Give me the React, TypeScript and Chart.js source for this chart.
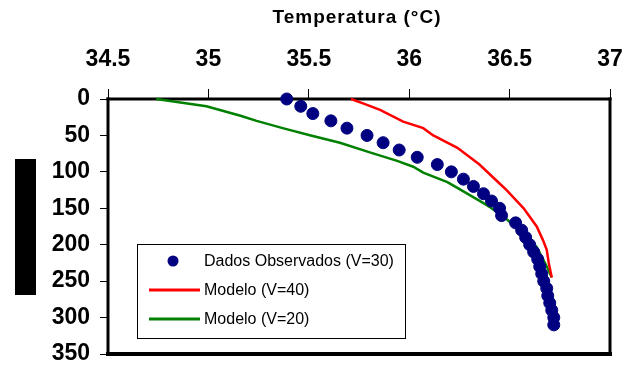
import React, { useEffect, useRef } from "react";
import { Chart, registerables } from "chart.js";

Chart.register(...registerables);

// Axis tick values
const tempTicks = [34.5, 35, 35.5, 36, 36.5, 37];
const depthTicks = [0, 50, 100, 150, 200, 250, 300, 350];
const axisTitle = "Temperatura (°C)";

// Observed profile (V=30): depth (m) and temperature (°C)
const obsDepth = [
  0, 10, 20, 30, 40, 50, 60, 70, 80, 90, 100, 110, 120, 130, 140, 150, 160,
  170, 180, 190, 200, 210, 220, 230, 240, 250, 260, 270, 280, 290, 300, 310,
];
const obsTemp = [
  35.39, 35.46, 35.52, 35.61, 35.69, 35.79, 35.87, 35.95, 36.04, 36.14, 36.21,
  36.27, 36.32, 36.37, 36.41, 36.45, 36.46, 36.53, 36.56, 36.58, 36.6, 36.62,
  36.64, 36.65, 36.66, 36.67, 36.685, 36.69, 36.7, 36.71, 36.72, 36.72,
];

// Model V=40
const v40Depth = [0, 6, 15, 31, 40, 50, 67, 90, 116, 125, 150, 175, 193, 207, 225, 245];
const v40Temp = [
  35.71, 35.77, 35.855, 35.97, 36.07, 36.12, 36.24, 36.35, 36.45, 36.485,
  36.57, 36.635, 36.665, 36.685, 36.695, 36.71,
];

// Model V=20
const v20Depth = [0, 10, 23, 30, 40, 50, 60, 73, 85, 93, 101, 114, 122, 143, 148, 166, 185, 203, 230, 245];
const v20Temp = [
  34.74, 34.99, 35.16, 35.24, 35.37, 35.51, 35.655, 35.8, 35.94, 36.02, 36.07,
  36.19, 36.24, 36.37, 36.4, 36.49, 36.57, 36.635, 36.685, 36.71,
];

const FONT = "'Liberation Sans', Arial, Helvetica, sans-serif";

const toPoints = (temps: number[], depths: number[]) =>
  temps.map((t, i) => ({ x: t, y: depths[i] }));

// Fixed axis box sizes, without label overhang padding
const fixScale = (size: number) => (scale: any) => {
  if (scale.isHorizontal()) scale.height = size;
  else scale.width = size;
  scale.paddingLeft = 0;
  scale.paddingRight = 0;
  scale.paddingTop = 0;
  scale.paddingBottom = 0;
};

// Plot frame, axis title, legend box and the block on the left
const decorPlugin = {
  id: "decor",
  beforeDatasetsDraw(chart: any) {
    const { ctx, chartArea: a } = chart;
    ctx.save();
    ctx.strokeStyle = "#000";
    ctx.lineCap = "square";
    const side = (x1: number, y1: number, x2: number, y2: number, w: number) => {
      ctx.lineWidth = w;
      ctx.beginPath();
      ctx.moveTo(x1, y1);
      ctx.lineTo(x2, y2);
      ctx.stroke();
    };
    side(a.left, a.top, a.right, a.top, 3);
    side(a.left, a.top, a.left, a.bottom, 3);
    side(a.right, a.top, a.right, a.bottom, 3);
    side(a.left, a.bottom, a.right, a.bottom, 4);
    ctx.restore();
  },
  afterDraw(chart: any) {
    const { ctx } = chart;
    ctx.save();

    // axis title, letter-spaced
    ctx.fillStyle = "#000";
    ctx.font = `bold 19px ${FONT}`;
    (ctx as any).letterSpacing = "1px";
    ctx.textAlign = "center";
    ctx.textBaseline = "middle";
    ctx.fillText(axisTitle, 357, 18);
    (ctx as any).letterSpacing = "0px";

    // block at left
    ctx.fillStyle = "#000";
    ctx.fillRect(15, 159, 21, 136);

    // legend box
    const bx = 137, by = 244, bw = 268, bh = 94;
    ctx.fillStyle = "#fff";
    ctx.fillRect(bx, by, bw, bh);
    ctx.strokeStyle = "#000";
    ctx.lineWidth = 1;
    ctx.strokeRect(bx + 0.5, by + 0.5, bw, bh);

    const rows = [261, 290, 319];
    chart.data.datasets.forEach((ds: any, i: number) => {
      const y = rows[i];
      if (ds.showLine) {
        ctx.strokeStyle = ds.borderColor;
        ctx.lineWidth = 3;
        ctx.beginPath();
        ctx.moveTo(149, y);
        ctx.lineTo(200, y);
        ctx.stroke();
      } else {
        ctx.fillStyle = ds.backgroundColor;
        ctx.beginPath();
        ctx.arc(173, y, 5.5, 0, Math.PI * 2);
        ctx.fill();
      }
      ctx.fillStyle = "#000";
      ctx.font = `16px ${FONT}`;
      ctx.textAlign = "left";
      ctx.textBaseline = "middle";
      ctx.fillText(ds.label, 204, y + 1);
    });
    ctx.restore();
  },
};

export default function App() {
  const canvasRef = useRef<HTMLCanvasElement | null>(null);

  useEffect(() => {
    const canvas = canvasRef.current;
    if (!canvas) return;
    const chart = new Chart(canvas, {
      type: "scatter",
      data: {
        datasets: [
          {
            label: "Dados Observados (V=30)",
            data: toPoints(obsTemp, obsDepth),
            showLine: false,
            backgroundColor: "#000080",
            borderColor: "#000080",
            pointRadius: 6,
            pointBorderWidth: 1,
            clip: false,
          },
          {
            label: "Modelo (V=40)",
            data: toPoints(v40Temp, v40Depth),
            showLine: true,
            borderColor: "#ff0000",
            backgroundColor: "#ff0000",
            borderWidth: 2.5,
            pointRadius: 0,
            tension: 0,
            clip: false,
          },
          {
            label: "Modelo (V=20)",
            data: toPoints(v20Temp, v20Depth),
            showLine: true,
            borderColor: "#008000",
            backgroundColor: "#008000",
            borderWidth: 2.5,
            pointRadius: 0,
            tension: 0,
            clip: false,
          },
        ],
      },
      options: {
        responsive: false,
        animation: false,
        events: [],
        layout: { padding: { left: 0, top: 0, right: 24, bottom: 11 } },
        plugins: {
          legend: { display: false },
          tooltip: { enabled: false },
          title: { display: false },
        },
        scales: {
          x: {
            type: "linear",
            position: "top",
            min: 34.5,
            max: 37,
            afterBuildTicks: (scale: any) => {
              scale.ticks = tempTicks.map((v) => ({ value: v }));
            },
            afterFit: fixScale(99),
            border: { display: false },
            grid: {
              drawOnChartArea: false,
              drawTicks: true,
              tickLength: 10,
              tickColor: "#000",
              tickWidth: 1,
            },
            ticks: {
              color: "#000",
              padding: 16,
              maxRotation: 0,
              font: { family: FONT, size: 23, weight: "bold" },
              callback: (v: any) => String(v),
            },
          },
          y: {
            type: "linear",
            position: "left",
            reverse: true,
            min: 0,
            max: 350,
            afterBuildTicks: (scale: any) => {
              scale.ticks = depthTicks.map((v) => ({ value: v }));
            },
            afterFit: fixScale(108),
            border: { display: false },
            grid: {
              drawOnChartArea: false,
              drawTicks: true,
              tickLength: 8,
              tickColor: "#000",
              tickWidth: 1,
            },
            ticks: {
              color: "#000",
              padding: 10,
              font: { family: FONT, size: 23, weight: "bold" },
              callback: (v: any) => String(v),
            },
          },
        },
      },
      plugins: [decorPlugin],
    });
    return () => chart.destroy();
  }, []);

  return (
    <div style={{ position: "fixed", left: 0, top: 0, width: 634, height: 365, background: "#fff" }}>
      <canvas ref={canvasRef} width={634} height={365} style={{ display: "block" }} />
    </div>
  );
}
